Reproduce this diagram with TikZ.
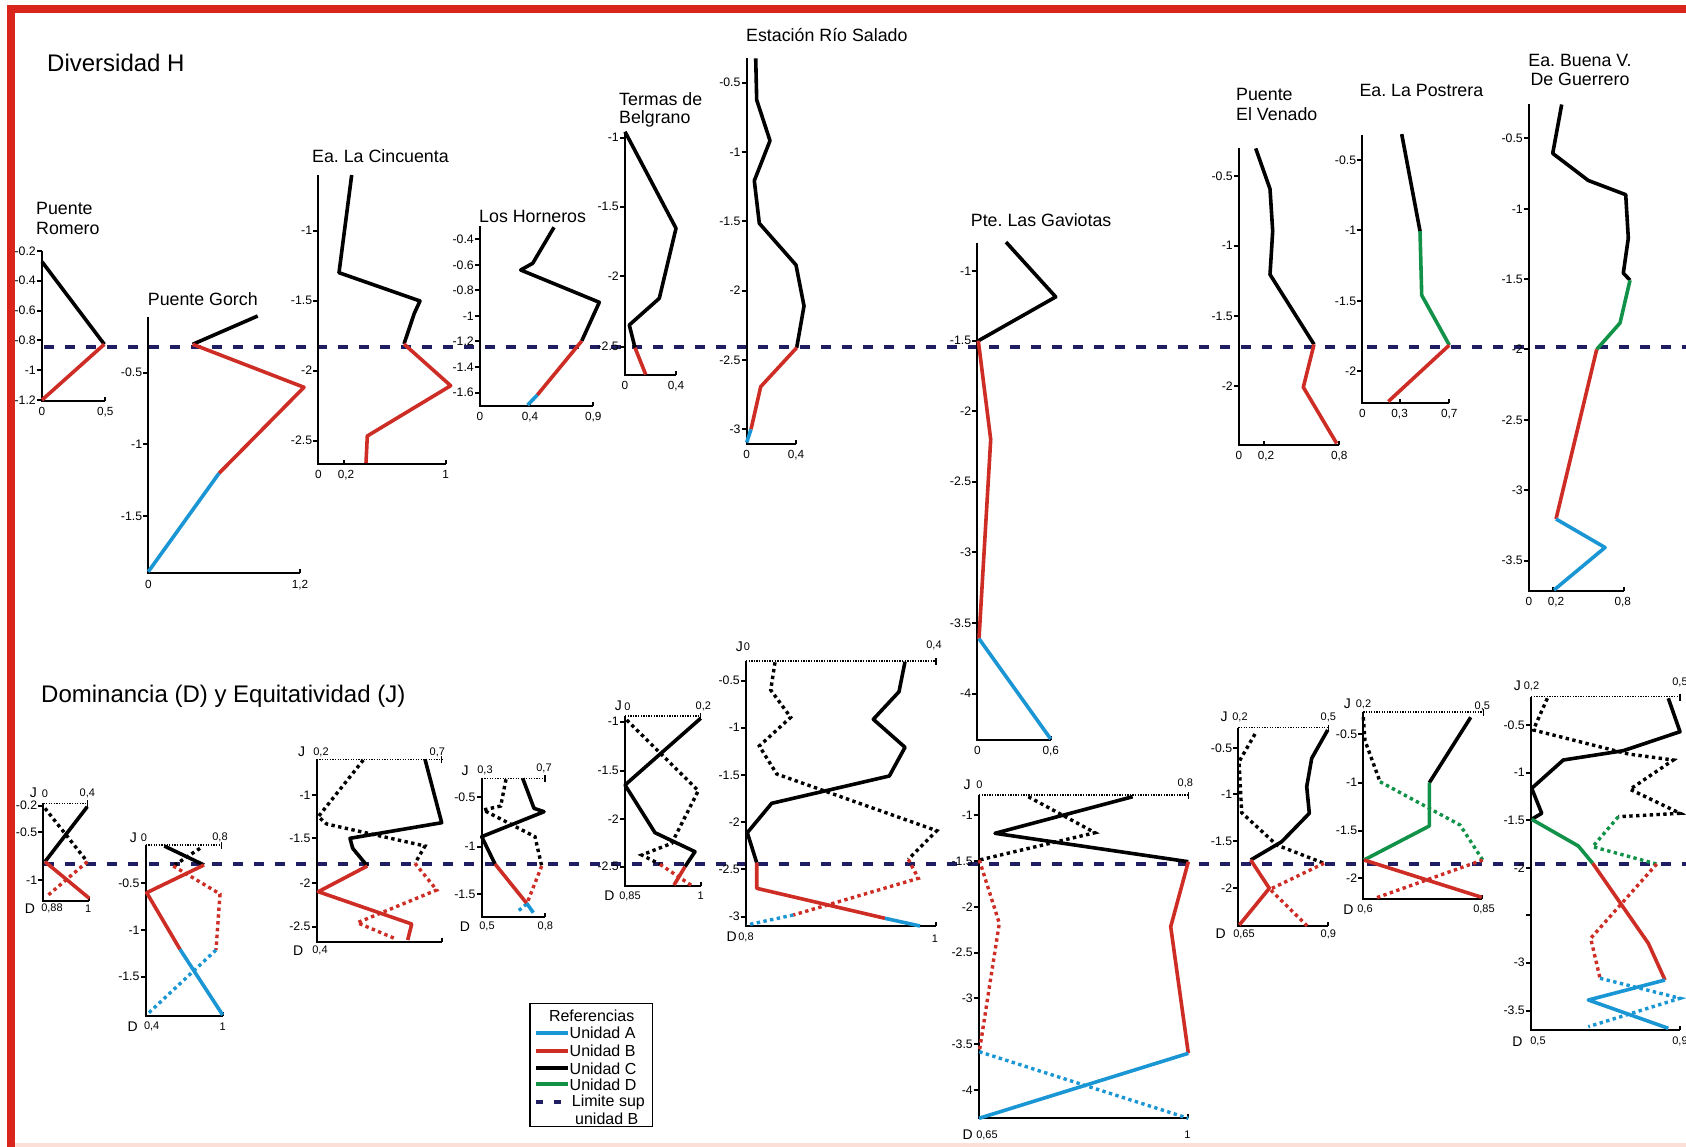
\documentclass[tikz,border=0pt]{standalone}
\usepackage{fontspec}
\setmainfont{Liberation Sans}
\frenchspacing
\definecolor{cr}{RGB}{206,45,38}
\definecolor{cb}{RGB}{27,150,212}
\definecolor{cg}{RGB}{18,146,72}
\definecolor{cn}{RGB}{32,30,98}
\definecolor{framered}{RGB}{218,37,29}
\definecolor{pinkb}{RGB}{252,224,216}
\newcounter{nn}
\newcommand\tkY[3]{\draw[axl] (#1,#2) -- ({#1-5},#2); \stepcounter{nn}\node[tl,anchor=east] (n\arabic{nn}) at ({#1-5.5},#2) {#3};}
\newcommand\tkN[2]{\draw[axl] (#1,#2) -- ({#1-5},#2);}
\newcommand\tkX[3]{\stepcounter{nn}\node[xl,anchor=north] (n\arabic{nn}) at (#1,{#2+6}) {#3};}
\newcommand\tkK[2]{\draw[axl] (#1,#2) -- (#1,{#2-4});}
\newcommand\putlab[4]{\stepcounter{nn}\node[#1] (n\arabic{nn}) at (#2,#3) {#4};}
\newcommand\jaxis[3]{\draw[jax] (#1,#3) -- (#2,#3); \draw[line width=1.3pt] (#2,{#3-3}) -- (#2,{#3+4});}
\begin{document}
\begin{tikzpicture}[x=1pt,y=-1pt,
  axl/.style={line width=2pt},
  dl/.style={line width=3.6pt, line join=round, line cap=butt},
  cA/.style={dl, draw=cb}, cB/.style={dl, draw=cr}, cC/.style={dl, draw=black}, cD/.style={dl, draw=cg},
  dtl/.style={line width=3.4pt, dash pattern=on 3.4pt off 3.4pt},
  dA/.style={dtl, draw=cb}, dB/.style={dtl, draw=cr}, dC/.style={dtl, draw=black}, dD/.style={dtl, draw=cg},
  jax/.style={line width=1.3pt, dash pattern=on 1.3pt off 1.3pt},
  limline/.style={line width=4pt, draw=cn, dash pattern=on 10pt off 11pt},
  tl/.style={font=\fontsize{12.3}{14}\selectfont, inner sep=0.5pt},
  xl/.style={font=\fontsize{11.8}{14}\selectfont, inner sep=0.5pt},
  vl/.style={font=\fontsize{11}{13}\selectfont, inner sep=0.5pt},
  jd/.style={font=\fontsize{14}{16}\selectfont, inner sep=0pt},
  ttl/.style={font=\fontsize{17.8}{20}\selectfont, inner sep=0pt, anchor=base west},
  bigt/.style={font=\fontsize{24}{28}\selectfont, inner sep=0pt, anchor=base west},
  legt/.style={font=\fontsize{16}{18}\selectfont, inner sep=0pt, anchor=west},
  legl/.style={line width=4pt}]
\useasboundingbox (0,0) rectangle (1686,1147);
\fill[white] (0,0) rectangle (1686,1147);
% frame
\fill[framered] (7,5.5) rectangle (1686,13);
\fill[framered] (7,5.5) rectangle (15,1147);
\fill[pinkb] (15,1143) rectangle (1686,1147);

% big titles
\node[bigt] (tdiv) at (47,72) {Diversidad H};
\node[bigt] (tdom) at (41,702) {Dominancia (D) y Equitatividad (J)};

% limit lines
\draw[limline] (44,347.5) -- (1686,347.5);
\draw[limline] (44,864) -- (1686,864);

% ===== TOP CHARTS =====
% 1 Puente Romero
\node[ttl] (h1a) at (36,214.5) {Puente};
\node[ttl] (h1b) at (36,234.5) {Romero};
\draw[axl] (42,251) -- (42,400.7) -- (105.3,400.7);
\tkY{42}{251}{-0.2}\tkY{42}{280.7}{-0.4}\tkY{42}{310.7}{-0.6}\tkY{42}{340.3}{-0.8}\tkY{42}{370.3}{-1}\tkY{42}{400}{-1.2}
\tkX{42}{400.7}{0}\tkX{105.3}{400.7}{0,5}\tkK{105.3}{400.7}
\draw[cC] (42,261.7) -- (104.3,344.3);
\draw[cB] (104.3,344.3) -- (42,400);

% 2 Puente Gorch
\node[ttl] (h2) at (147.7,305.3) {Puente Gorch};
\draw[axl] (148.3,316.7) -- (148.3,573.3) -- (300,573.3);
\tkY{148.3}{372.7}{-0.5}\tkY{148.3}{444.3}{-1}\tkY{148.3}{516}{-1.5}
\tkX{148.3}{573.3}{0}\tkX{300}{573.3}{1,2}\tkK{300}{573.3}
\draw[cC] (257.7,316) -- (192.7,344.3);
\draw[cB] (192.7,344.3) -- (304,387.3) -- (219,473.3);
\draw[cA] (219,473.3) -- (148.3,571.7);

% 3 Ea. La Cincuenta
\node[ttl] (h3) at (312,162.3) {Ea. La Cincuenta};
\draw[axl] (318.3,175) -- (318.3,464) -- (445.7,464);
\tkY{318.3}{230.7}{-1}\tkY{318.3}{300.7}{-1.5}\tkY{318.3}{370.7}{-2}\tkY{318.3}{440.7}{-2.5}
\tkX{318.3}{464}{0}\tkX{346}{464}{0,2}\tkK{343.8}{464}\tkX{445.7}{464}{1}\tkK{445.7}{464}
\draw[cC] (351.7,175) -- (339,272.7) -- (420,301) -- (414.3,313.3) -- (404,344);
\draw[cB] (404,344) -- (450.7,385.7) -- (367.3,436) -- (366,463);

% 4 Los Horneros
\node[ttl] (h4) at (479,222.3) {Los Horneros};
\draw[axl] (480,226) -- (480,406) -- (593.3,406);
\tkY{480}{239.3}{-0.4}\tkY{480}{265}{-0.6}\tkY{480}{290.3}{-0.8}\tkY{480}{316}{-1}\tkY{480}{341.3}{-1.2}\tkY{480}{367.3}{-1.4}\tkY{480}{392.7}{-1.6}
\tkX{480}{406}{0}\tkX{530}{406}{0,4}\tkK{530}{406}\tkX{593.3}{406}{0,9}\tkK{593.3}{406}
\draw[cC] (554,227.3) -- (532.7,263.3) -- (520.7,270) -- (599.3,302.3) -- (581.7,341);
\draw[cB] (581.7,341) -- (537.3,395);
\draw[cA] (537.3,395) -- (527.7,405);

% 5 Termas de Belgrano
\node[ttl] (h5a) at (619,105.3) {Termas de};
\node[ttl] (h5b) at (619,124) {Belgrano};
\draw[axl] (625,131.7) -- (625,375) -- (676,375);
\tkY{625}{137.7}{-1}\tkY{625}{206.7}{-1.5}\tkY{625}{276}{-2}\tkY{625}{346.7}{-2.5}
\tkX{625}{375}{0}\tkX{676}{375}{0,4}\tkK{676}{375}
\draw[cC] (625,131.7) -- (676,228.3) -- (659.3,298.3) -- (629.3,325) -- (635,347.7);
\draw[cB] (635,347.7) -- (645.7,374.5);

% 6 Estacion Rio Salado
\node[ttl] (h6) at (746,41.3) {Estación Río Salado};
\draw[axl] (746.7,58.3) -- (746.7,443.5) -- (796,443.5);
\tkY{746.7}{82.7}{-0.5}\tkY{746.7}{152}{-1}\tkY{746.7}{221.3}{-1.5}\tkY{746.7}{290.7}{-2}\tkY{746.7}{360}{-2.5}\tkY{746.7}{429.3}{-3}
\tkX{746.7}{443.5}{0}\tkX{796}{443.5}{0,4}\tkK{796}{443.5}
\draw[cC] (755.7,58.3) -- (756.7,100) -- (770,140.7) -- (754.3,180.7) -- (759.3,223.3) -- (796,265) -- (804,306) -- (796.7,347.7);
\draw[cB] (796.7,347.7) -- (760.7,386.7) -- (751,429.3);
\draw[cA] (751,429.3) -- (746.7,442.5);

% 7 Pte. Las Gaviotas
\node[ttl] (h7) at (970.7,227) {Pte. Las Gaviotas};
\draw[axl] (977.3,242.8) -- (977.3,740) -- (1050.7,740);
\tkY{977.3}{271.3}{-1}\tkY{977.3}{340.8}{-1.5}\tkY{977.3}{411}{-2}\tkY{977.3}{481.5}{-2.5}\tkY{977.3}{552.1}{-3}\tkY{977.3}{623.4}{-3.5}\tkY{977.3}{693.6}{-4}
\tkX{977.3}{740}{0}\tkX{1050.7}{740}{0,6}\tkK{1050.7}{740}
\draw[cC] (1006,242.1) -- (1055.7,296.9) -- (978.3,340.8);
\draw[cB] (978.3,340.8) -- (990.7,439.5) -- (979,638.7);
\draw[cA] (979,638.7) -- (1050.7,739);

% 8 Puente El Venado
\node[ttl] (h8a) at (1236,100.9) {Puente};
\node[ttl] (h8b) at (1236,120.5) {El Venado};
\draw[axl] (1239,148.4) -- (1239,444.5) -- (1339.3,444.5);
\tkY{1239}{175.8}{-0.5}\tkY{1239}{245.7}{-1}\tkY{1239}{315.9}{-1.5}\tkY{1239}{386.4}{-2}
\tkX{1239}{444.5}{0}\tkX{1266}{444.5}{0,2}\tkK{1264}{444.5}\tkX{1339.3}{444.5}{0,8}\tkK{1339.3}{444.5}
\draw[cC] (1255.7,148.4) -- (1270,189) -- (1272.7,231.1) -- (1270,274.5) -- (1314,344.4);
\draw[cB] (1314,344.4) -- (1303.3,387.2) -- (1336.7,443.5);

% 9 Ea. La Postrera
\node[ttl] (h9) at (1359.3,96.6) {Ea. La Postrera};
\draw[axl] (1362.3,134.8) -- (1362.3,403) -- (1449.3,403);
\tkY{1362.3}{159.8}{-0.5}\tkY{1362.3}{230.3}{-1}\tkY{1362.3}{301.3}{-1.5}\tkY{1362.3}{371.1}{-2}
\tkX{1362.3}{403}{0}\tkX{1399.6}{403}{0,3}\tkK{1399.6}{403}\tkX{1449.3}{403}{0,7}\tkK{1449.3}{403}
\draw[cC] (1401.7,134.1) -- (1420,231.1);
\draw[cD] (1420,231.1) -- (1421.7,295.2) -- (1449.3,345.1);
\draw[cB] (1449.3,345.1) -- (1388.3,401.5);

% 10 Ea. Buena V. De Guerrero
\node[ttl,anchor=base] (h10a) at (1580,66.5) {Ea. Buena V.};
\node[ttl,anchor=base] (h10b) at (1580,85.5) {De Guerrero};
\draw[axl] (1529,104.5) -- (1529,591) -- (1624,591);
\tkY{1529}{138.4}{-0.5}\tkY{1529}{209}{-1}\tkY{1529}{279.2}{-1.5}\tkY{1529}{349.4}{-2}\tkY{1529}{420}{-2.5}\tkY{1529}{490.1}{-3}\tkY{1529}{560.7}{-3.5}
\tkX{1529}{591}{0}\tkX{1556}{591}{0,2}\tkK{1553}{591}\tkX{1622.7}{591}{0,8}\tkK{1624}{591}
\draw[cC] (1561.7,104.5) -- (1552.7,153.4) -- (1588.3,180.5) -- (1625.7,194.7) -- (1628.3,238.2) -- (1623.3,273.1) -- (1630,280.2);
\draw[cD] (1630,280.2) -- (1620,323) -- (1596.7,349.4);
\draw[cB] (1596.7,349.4) -- (1556,519);
\draw[cA] (1556,519) -- (1605,547.5) -- (1554,590);

% ===== BOTTOM CHARTS =====
% B1
\jaxis{43.3}{87.3}{803.3}
\draw[axl] (43.3,803.3) -- (43.3,900.7) -- (89.3,900.7); \tkK{89.3}{900.7}
\tkY{43.3}{805.7}{-0.2}\tkY{43.3}{832.3}{-0.5}\tkY{43.3}{880}{-1}
\putlab{jd}{33.3}{792.5}{J}\putlab{vl}{45}{793.5}{0}\putlab{vl}{87.3}{793.3}{0,4}
\putlab{jd}{30}{908.3}{D}\putlab{vl}{52}{908.7}{0,88}\putlab{vl}{88.3}{908.7}{1}
\draw[dC] (45,808.3) -- (87.3,861.7);
\draw[dB] (87.3,861.7) -- (48.3,895);
\draw[cC] (87.3,806.7) -- (45,861.7);
\draw[cB] (45,861.7) -- (89.3,898.3);

% B2
\jaxis{145.7}{221.7}{845}
\draw[axl] (145.7,845) -- (145.7,1016) -- (222.7,1016); \tkK{222.7}{1016}
\tkY{145.7}{883.3}{-0.5}\tkY{145.7}{930}{-1}\tkY{145.7}{976.7}{-1.5}
\putlab{jd}{133.3}{837.5}{J}\putlab{vl}{144}{838}{0}\putlab{vl}{220}{837}{0,8}
\putlab{jd}{132.7}{1026.7}{D}\putlab{vl}{151.7}{1026.7}{0,4}\putlab{vl}{222.7}{1026.7}{1}
\draw[dC] (200,848.3) -- (173.3,866);
\draw[dB] (173.3,866) -- (220,894) -- (216,950);
\draw[dA] (216,950) -- (148.3,1013.3);
\draw[cC] (164.3,846) -- (204,865);
\draw[cB] (204,865) -- (146.7,892.7) -- (180,949.3);
\draw[cA] (180,949.3) -- (222.7,1015);

% B3
\jaxis{316.7}{441.7}{759.3}
\draw[axl] (316.7,759.3) -- (316.7,941.7) -- (441.7,941.7); \tkK{441.7}{941.7}
\tkY{316.7}{795}{-1}\tkY{316.7}{838.3}{-1.5}\tkY{316.7}{882.7}{-2}\tkY{316.7}{926.7}{-2.5}
\putlab{jd}{301.7}{752}{J}\putlab{vl}{321}{752}{0,2}\putlab{vl}{437.3}{752}{0,7}
\putlab{jd}{298.3}{950.7}{D}\putlab{vl}{320}{950.7}{0,4}
\draw[dC] (363.3,760) -- (318.3,816.7) -- (326.7,824) -- (425,846) -- (415,863.3);
\draw[dB] (415,863.3) -- (436.7,890) -- (357.3,922.7) -- (396.7,939.3);
\draw[cC] (425,759.3) -- (441.7,822.7) -- (350,838.3) -- (352.7,848.3) -- (367.3,866);
\draw[cB] (367.3,866) -- (318.3,891.7) -- (411.7,924) -- (407.7,940);

% B4
\jaxis{481.7}{545}{778.3}
\draw[axl] (481.7,778.3) -- (481.7,916.7) -- (545,916.7); \tkK{545}{916.7}
\tkY{481.7}{797.3}{-0.5}\tkY{481.7}{846.7}{-1}\tkY{481.7}{894}{-1.5}
\putlab{jd}{465}{771}{J}\putlab{vl}{485}{770}{0,3}\putlab{vl}{544}{768.3}{0,7}
\putlab{jd}{465}{926.7}{D}\putlab{vl}{487}{926.7}{0,5}\putlab{vl}{545.3}{926.7}{0,8}
\draw[dC] (506,779.3) -- (500.7,806) -- (483.3,810) -- (535,836.7) -- (541.7,866);
\draw[dB] (541.7,866) -- (526.7,904);
\draw[dA] (526.7,904) -- (517.3,911.7);
\draw[cC] (522.7,778.3) -- (534,808.3) -- (544,811.7) -- (481.7,836.7) -- (495,864);
\draw[cB] (495,864) -- (526.7,903.3);
\draw[cA] (526.7,903.3) -- (533.3,912.7);

% B5
\jaxis{625}{700.7}{716}
\draw[axl] (625,716) -- (625,886) -- (700.7,886); \tkK{700.7}{886}
\tkY{625}{721.7}{-1}\tkY{625}{770.7}{-1.5}\tkY{625}{819.3}{-2}\tkY{625}{866.7}{-2.5}
\putlab{jd}{618.3}{706}{J}\putlab{vl}{627.5}{706.7}{0}\putlab{vl}{703.3}{706}{0,2}
\putlab{jd}{609.3}{896}{D}\putlab{vl}{630}{896}{0,85}\putlab{vl}{700.7}{896}{1}
\draw[dC] (626.7,720) -- (698.3,790.7) -- (671.7,843.3) -- (641.7,855) -- (660,864.3);
\draw[dB] (660,864.3) -- (693.3,886.7);
\draw[cC] (700.7,718.3) -- (625,785) -- (655,832.7) -- (695,851.7) -- (685,866.7);
\draw[cB] (685,866.7) -- (674,885);

% B6
\jaxis{746}{936}{661}
\draw[axl] (746,661) -- (746,926) -- (936,926); \tkK{936}{926}
\tkY{746}{680.7}{-0.5}\tkY{746}{727.7}{-1}\tkY{746}{775}{-1.5}\tkY{746}{822.3}{-2}\tkY{746}{869.3}{-2.5}\tkY{746}{916.7}{-3}
\putlab{jd}{739.3}{646.5}{J}\putlab{vl}{747}{647}{0}\putlab{vl}{934}{645}{0,4}
\putlab{jd}{731.7}{937}{D}\putlab{vl}{746}{937.5}{0,8}\putlab{vl}{935}{939}{1}
\draw[dC] (775,662.3) -- (770.7,690) -- (790.7,717.3) -- (759.3,746) -- (776.7,774) -- (936.7,830.7) -- (908.3,859.3);
\draw[dB] (908.3,859.3) -- (918.3,878.3) -- (793.3,915);
\draw[dA] (793.3,915) -- (746.7,925);
\draw[cC] (905,661.7) -- (899,691.7) -- (873.3,719.3) -- (905,747.3) -- (889.3,776) -- (771.7,803.3) -- (747.3,832.7) -- (756.7,862.7);
\draw[cB] (756.7,862.7) -- (756.7,888.3) -- (885,918.3);
\draw[cA] (885,918.3) -- (920,926);

% B7
\jaxis{979}{1188.3}{795}
\draw[axl] (979,795) -- (979,1118.3) -- (1188.3,1118.3); \tkK{1188.3}{1118.3}
\tkY{979}{815}{-1}\tkY{979}{861}{-1.5}\tkY{979}{906.7}{-2}\tkY{979}{952.7}{-2.5}\tkY{979}{998.3}{-3}\tkY{979}{1044.3}{-3.5}\tkY{979}{1090}{-4}
\putlab{jd}{967}{784.5}{J}\putlab{vl}{979.5}{785}{0}\putlab{vl}{1185.3}{783}{0,8}
\putlab{jd}{967.7}{1135}{D}\putlab{vl}{987}{1135}{0,65}\putlab{vl}{1187.3}{1135}{1}
\draw[dC] (1028.3,796.7) -- (1095,832.7) -- (979.3,860);
\draw[dB] (979.3,860) -- (999.3,923.3) -- (979.3,1051.7);
\draw[dA] (979.3,1051.7) -- (1188.3,1118.3);
\draw[cC] (1132.7,796.7) -- (995,833.3) -- (1188.3,861.7);
\draw[cB] (1188.3,861.7) -- (1170.7,926.7) -- (1188.3,1053.3);
\draw[cA] (1188.3,1053.3) -- (979,1118.3);

% B8
\jaxis{1238.3}{1328.3}{727.7}
\draw[axl] (1238.3,727.7) -- (1238.3,926) -- (1328.3,926); \tkK{1328.3}{926}
\tkY{1238.3}{748.3}{-0.5}\tkY{1238.3}{794.3}{-1}\tkY{1238.3}{841}{-1.5}\tkY{1238.3}{887.7}{-2}
\putlab{jd}{1224}{716.5}{J}\putlab{vl}{1240}{717.3}{0,2}\putlab{vl}{1328.3}{717.3}{0,5}
\putlab{jd}{1220.7}{934}{D}\putlab{vl}{1244}{934}{0,65}\putlab{vl}{1328.3}{934}{0,9}
\draw[dC] (1255,734) -- (1239,761.7) -- (1241.7,812.7) -- (1276.7,845) -- (1324,863.3);
\draw[dB] (1324,863.3) -- (1270,889.3) -- (1307.3,926);
\draw[cC] (1327.7,730) -- (1311.7,758.3) -- (1306.7,786.7) -- (1309.3,813.3) -- (1281.7,841.7) -- (1250.7,860);
\draw[cB] (1250.7,860) -- (1269.3,888.3) -- (1239.3,925);

% B9
\jaxis{1363.3}{1483.3}{712}
\draw[axl] (1363.3,712) -- (1363.3,899.3) -- (1481.7,899.3); \tkK{1481.7}{899.3}
\tkY{1363.3}{734}{-0.5}\tkY{1363.3}{782.7}{-1}\tkY{1363.3}{830.7}{-1.5}\tkY{1363.3}{877.7}{-2}
\putlab{jd}{1347.3}{703.5}{J}\putlab{vl}{1363.5}{704}{0,2}\putlab{vl}{1482.3}{706}{0,5}
\putlab{jd}{1348.3}{909.3}{D}\putlab{vl}{1365}{909.3}{0,6}\putlab{vl}{1484}{909.3}{0,85}
\draw[dC] (1363.3,717.3) -- (1365,740.7) -- (1380,781.7);
\draw[dD] (1380,781.7) -- (1460,825) -- (1482.7,860);
\draw[dB] (1482.7,860) -- (1375,898.3);
\draw[cC] (1470.7,717.3) -- (1429.3,782.7);
\draw[cD] (1429.3,782.7) -- (1429.3,826) -- (1364,860);
\draw[cB] (1364,860) -- (1481.7,897.3);

% B10
\jaxis{1531}{1680}{696.7}
\draw[axl] (1531,696.7) -- (1531,1030) -- (1680,1030); \tkK{1680}{1030}
\tkY{1531}{725}{-0.5}\tkY{1531}{772.7}{-1}\tkY{1531}{820}{-1.5}\tkY{1531}{868.3}{-2}\tkN{1531}{915}\tkY{1531}{962.7}{-3}\tkY{1531}{1010.7}{-3.5}
\putlab{jd}{1517.3}{685.5}{J}\putlab{vl}{1531.5}{686}{0,2}\putlab{vl}{1680}{682.7}{0,5}
\putlab{jd}{1517.3}{1041.7}{D}\putlab{vl}{1538}{1041.7}{0,5}\putlab{vl}{1680}{1041.7}{0,9}
\draw[dC] (1547.3,698.3) -- (1533.3,730) -- (1628.3,754) -- (1673.3,760) -- (1630,789.3) -- (1680,813.3) -- (1618.3,816.7);
\draw[dD] (1618.3,816.7) -- (1592.7,846.7) -- (1656.7,864);
\draw[dB] (1656.7,864) -- (1590.7,938.3) -- (1600,978.3);
\draw[dA] (1600,978.3) -- (1680,998.3) -- (1588.3,1026.7);
\draw[cC] (1668.3,698.3) -- (1680,731.7) -- (1623.3,750.7) -- (1563.3,760) -- (1531.7,788.3) -- (1541.7,813.3) -- (1531.7,819.3);
\draw[cD] (1531.7,819.3) -- (1578.3,846) -- (1592.7,863.3);
\draw[cB] (1592.7,863.3) -- (1648.3,943.3) -- (1665,980);
\draw[cA] (1665,980) -- (1588.3,1000) -- (1668.3,1028.3);

% ===== LEGEND =====
\draw[line width=1.5pt, fill=white] (530,1003.3) rectangle (652.7,1126.7);
\node[legt, anchor=center] (lref) at (591.7,1016) {Referencias};
\draw[legl, cb] (536,1032.7) -- (568,1032.7); \node[legt] (la) at (569.5,1032.7) {Unidad A};
\draw[legl, cr] (536,1050.7) -- (568,1050.7); \node[legt] (lb) at (569.5,1050.7) {Unidad B};
\draw[legl, black] (536,1068.3) -- (568,1068.3); \node[legt] (lc) at (569.5,1068.3) {Unidad C};
\draw[legl, cg] (536,1084.3) -- (568,1084.3); \node[legt] (ld) at (569.5,1084.3) {Unidad D};
\draw[legl, cn] (536,1102) -- (543,1102);
\draw[legl, cn] (554,1102) -- (561,1102);
\node[legt] (le1) at (571.7,1102) {Limite sup};
\node[legt] (le2) at (575,1118.3) {unidad B};
\end{tikzpicture}
\end{document}
